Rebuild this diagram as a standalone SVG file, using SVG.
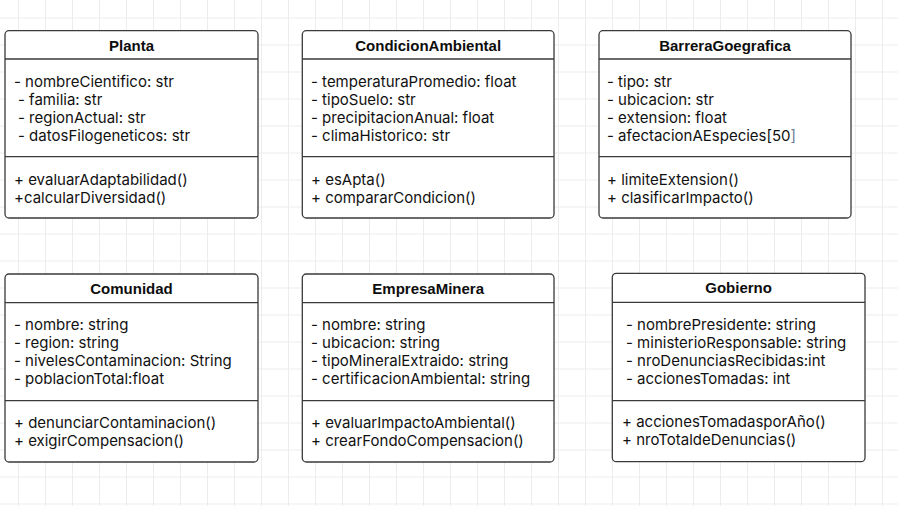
<svg xmlns="http://www.w3.org/2000/svg" width="898" height="506" viewBox="0 0 898 506">
<defs>
<pattern id="grid" patternUnits="userSpaceOnUse" x="18" y="17.5" width="27" height="27">
<path d="M0.5 0V27M0 0.5H27" fill="none" stroke="#ececec" stroke-width="1"/>
</pattern>
<style>
.box{fill:#ffffff;stroke:#3a3a3a;stroke-width:1.3}
.div{stroke:#3a3a3a;stroke-width:1.3}
.title{font-family:"Liberation Sans",Arial,sans-serif;font-weight:bold;font-size:15px;fill:#0d0d0d;text-anchor:middle}
.t{font-family:Inter,"Noto Sans",sans-serif;font-size:15px;fill:#111111}
.dim{fill:#6b7a99}
</style>
</defs>
<rect width="898" height="506" fill="#ffffff"/>
<rect width="898" height="506" fill="url(#grid)"/>
<g id="connectors"/>
<g id="Planta">
<rect class="box" x="5" y="30.7" width="253" height="187.3" rx="4"/>
<line class="div" x1="5" y1="59" x2="258" y2="59"/>
<line class="div" x1="5" y1="156.7" x2="258" y2="156.7"/>
<text class="title" x="131.5" y="50.7">Planta</text>
<text class="t" x="14" y="86.5">- nombreCientifico: str</text>
<text class="t" x="18" y="104.5">- familia: str</text>
<text class="t" x="18" y="122.5">- regionActual: str</text>
<text class="t" x="18" y="140.5">- datosFilogeneticos: str</text>
<text class="t" x="14" y="185">+ evaluarAdaptabilidad()</text>
<text class="t" x="14" y="203">+calcularDiversidad()</text>
</g>
<g id="CondicionAmbiental">
<rect class="box" x="302.3" y="30.7" width="251.7" height="187.3" rx="4"/>
<line class="div" x1="302.3" y1="59" x2="554" y2="59"/>
<line class="div" x1="302.3" y1="156.7" x2="554" y2="156.7"/>
<text class="title" x="428.2" y="50.7">CondicionAmbiental</text>
<text class="t" x="311" y="86.5">- temperaturaPromedio: float</text>
<text class="t" x="311" y="104.5">- tipoSuelo: str</text>
<text class="t" x="311" y="122.5">- precipitacionAnual: float</text>
<text class="t" x="311" y="140.5">- climaHistorico: str</text>
<text class="t" x="311" y="185">+ esApta()</text>
<text class="t" x="311" y="203">+ compararCondicion()</text>
</g>
<g id="BarreraGoegrafica">
<rect class="box" x="599" y="30.7" width="252" height="187.3" rx="4"/>
<line class="div" x1="599" y1="59" x2="851" y2="59"/>
<line class="div" x1="599" y1="156.7" x2="851" y2="156.7"/>
<text class="title" x="725" y="50.7">BarreraGoegrafica</text>
<text class="t" x="607" y="86.5">- tipo: str</text>
<text class="t" x="607" y="104.5">- ubicacion: str</text>
<text class="t" x="607" y="122.5">- extension: float</text>
<text class="t" x="607" y="140.5">- afectacionAEspecies[50<tspan class="dim">]</tspan></text>
<text class="t" x="607" y="185">+ limiteExtension()</text>
<text class="t" x="607" y="203">+ clasificarImpacto()</text>
</g>
<g id="Comunidad">
<rect class="box" x="5" y="274" width="253" height="188" rx="4"/>
<line class="div" x1="5" y1="302.7" x2="258" y2="302.7"/>
<line class="div" x1="5" y1="400.7" x2="258" y2="400.7"/>
<text class="title" x="131.5" y="293.5">Comunidad</text>
<text class="t" x="14" y="330">- nombre: string</text>
<text class="t" x="14" y="348">- region: string</text>
<text class="t" x="14" y="366">- nivelesContaminacion: String</text>
<text class="t" x="14" y="384">- poblacionTotal:float</text>
<text class="t" x="14" y="428">+ denunciarContaminacion()</text>
<text class="t" x="14" y="446">+ exigirCompensacion()</text>
</g>
<g id="EmpresaMinera">
<rect class="box" x="302.3" y="274" width="251.7" height="188" rx="4"/>
<line class="div" x1="302.3" y1="302.7" x2="554" y2="302.7"/>
<line class="div" x1="302.3" y1="400.7" x2="554" y2="400.7"/>
<text class="title" x="428.2" y="293.5">EmpresaMinera</text>
<text class="t" x="311" y="330">- nombre: string</text>
<text class="t" x="311" y="348">- ubicacion: string</text>
<text class="t" x="311" y="366">- tipoMineralExtraido: string</text>
<text class="t" x="311" y="384">- certificacionAmbiental: string</text>
<text class="t" x="311" y="428">+ evaluarImpactoAmbiental()</text>
<text class="t" x="311" y="446">+ crearFondoCompensacion()</text>
</g>
<g id="Gobierno">
<rect class="box" x="612.3" y="273.3" width="252.7" height="188.4" rx="4"/>
<line class="div" x1="612.3" y1="302.3" x2="865" y2="302.3"/>
<line class="div" x1="612.3" y1="400.7" x2="865" y2="400.7"/>
<text class="title" x="738.6" y="293">Gobierno</text>
<text class="t" x="626" y="329.5">- nombrePresidente: string</text>
<text class="t" x="626" y="347.5">- ministerioResponsable: string</text>
<text class="t" x="626" y="365.5">- nroDenunciasRecibidas:int</text>
<text class="t" x="626" y="383.5">- accionesTomadas: int</text>
<text class="t" x="622" y="427">+ accionesTomadasporAño()</text>
<text class="t" x="622" y="445">+ nroTotaldeDenuncias()</text>
</g>
</svg>
